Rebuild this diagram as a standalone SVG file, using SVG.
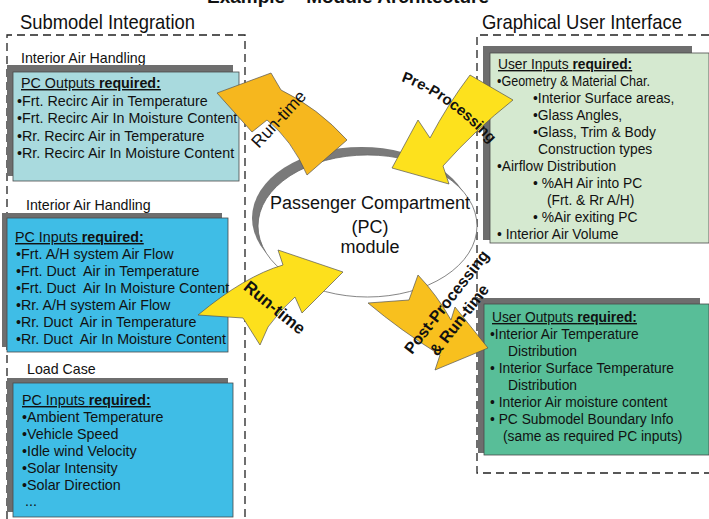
<svg xmlns="http://www.w3.org/2000/svg" width="709" height="519" viewBox="0 0 709 519">
<defs>
<style>
text{font-family:"Liberation Sans",Arial,Helvetica,sans-serif;fill:#111}
.t{font-size:21px}
.lbl{font-size:14.2px}
.l{font-size:14.3px}
.r{font-size:13.8px}
.u{text-decoration:underline}
.b{font-weight:bold}
.sh{fill:#6e6e6e}
.bx{stroke:#4a4a4a;stroke-width:0.8}
.dash{fill:none;stroke:#222;stroke-width:1.3;stroke-dasharray:8 5}
.arr{stroke:#555;stroke-width:0.7;stroke-linejoin:miter}
.pre{white-space:pre}
</style>
<path id="pp" d="M401,81 Q455,100 506,162"/>
</defs>
<rect width="709" height="519" fill="#fff"/>

<text x="207" y="3" class="b" font-size="19" textLength="282" lengthAdjust="spacingAndGlyphs">Example – Module Architecture</text>

<g id="submodel-integration">
<text x="20" y="29" class="t" textLength="175" lengthAdjust="spacingAndGlyphs">Submodel Integration</text>
<path class="dash" d="M7,519 V35 H245 V519"/>
</g>
<g id="gui">
<text x="482" y="29" class="t" textLength="200" lengthAdjust="spacingAndGlyphs">Graphical User Interface</text>
<path class="dash" d="M709,35 H477 V473 H709"/>
</g>

<g id="pc-outputs">
<text x="21" y="63" class="lbl">Interior Air Handling</text>
<rect class="sh" x="7" y="65" width="226" height="111"/>
<rect class="bx" x="13" y="72" width="226" height="109" fill="#a9dade"/>
<text x="21" y="88" class="l u">PC Outputs <tspan class="b">required:</tspan></text>
<text x="17" y="105.5" class="l">•Frt. Recirc Air in Temperature</text>
<text x="17" y="123" class="l">•Frt. Recirc Air In Moisture Content</text>
<text x="17" y="140.5" class="l">•Rr. Recirc Air in Temperature</text>
<text x="17" y="158" class="l">•Rr. Recirc Air In Moisture Content</text>
</g>

<g id="pc-inputs-ah">
<text x="26" y="210" class="lbl">Interior Air Handling</text>
<rect class="sh" x="2" y="213" width="220" height="134"/>
<rect class="bx" x="7" y="218" width="221" height="134" fill="#3fbde6"/>
<text x="15" y="242" class="l u">PC Inputs <tspan class="b">required:</tspan></text>
<text x="16" y="259" class="l pre">•Frt. A/H system Air Flow</text>
<text x="16" y="276" class="l pre">•Frt. Duct  Air in Temperature</text>
<text x="16" y="293" class="l pre">•Frt. Duct  Air In Moisture Content</text>
<text x="16" y="310" class="l pre">•Rr. A/H system Air Flow</text>
<text x="16" y="327" class="l pre">•Rr. Duct  Air in Temperature</text>
<text x="16" y="344" class="l pre">•Rr. Duct  Air In Moisture Content</text>
</g>

<g id="pc-inputs-load">
<text x="27" y="374" class="lbl">Load Case</text>
<rect class="sh" x="7" y="378" width="221" height="134"/>
<rect class="bx" x="13" y="383" width="220" height="134" fill="#3fbde6"/>
<text x="22" y="405" class="l u">PC Inputs <tspan class="b">required:</tspan></text>
<text x="22" y="422" class="l">•Ambient Temperature</text>
<text x="22" y="439" class="l">•Vehicle Speed</text>
<text x="22" y="456" class="l">•Idle wind Velocity</text>
<text x="22" y="473" class="l">•Solar Intensity</text>
<text x="22" y="490" class="l">•Solar Direction</text>
<text x="25" y="506" class="l">...</text>
</g>

<g id="user-inputs">
<rect class="sh" x="483" y="46" width="209" height="194"/>
<rect class="bx" x="490" y="53" width="219" height="190" fill="#d5e9d0"/>
<text x="498" y="69" class="r u">User Inputs <tspan class="b">required:</tspan></text>
<text x="497" y="86" class="r" textLength="153" lengthAdjust="spacingAndGlyphs">•Geometry &amp; Material Char.</text>
<text x="533" y="103" class="r">•Interior Surface areas,</text>
<text x="533" y="120" class="r">•Glass Angles,</text>
<text x="533" y="137" class="r">•Glass, Trim &amp; Body</text>
<text x="538" y="154" class="r">Construction types</text>
<text x="497" y="171" class="r">•Airflow Distribution</text>
<text x="533" y="188" class="r">• %AH Air into PC</text>
<text x="547" y="205" class="r">(Frt. &amp; Rr A/H)</text>
<text x="533" y="222" class="r">• %Air exiting PC</text>
<text x="497" y="239" class="r">• Interior Air Volume</text>
</g>

<g id="user-outputs">
<rect class="sh" x="478" y="298" width="222" height="155"/>
<rect class="bx" x="484" y="304" width="225" height="151" fill="#58be98"/>
<text x="492" y="322" class="r u">User Outputs <tspan class="b">required:</tspan></text>
<text x="490" y="339" class="r">•Interior Air Temperature</text>
<text x="508" y="356" class="r">Distribution</text>
<text x="490" y="373" class="r">• Interior Surface Temperature</text>
<text x="508" y="390" class="r">Distribution</text>
<text x="490" y="407" class="r">• Interior Air moisture content</text>
<text x="490" y="424" class="r">• PC Submodel Boundary Info</text>
<text x="503" y="441" class="r">(same as required PC inputs)</text>
</g>

<g id="pc-module">
<ellipse cx="361.5" cy="218" rx="109.5" ry="71" fill="#7a7a7a"/>
<ellipse cx="367.5" cy="226" rx="109.5" ry="71" fill="#fff" stroke="#666" stroke-width="0.8"/>
<text x="370" y="209" font-size="18" text-anchor="middle">Passenger Compartment</text>
<text x="370" y="233" font-size="18" text-anchor="middle">(PC)</text>
<text x="370" y="253" font-size="18" text-anchor="middle">module</text>
</g>

<g id="connectors">
<path class="arr" fill="#f6b71e" d="M217,93 L271,73 L281,90 Q318,108 347,140 L307,175 Q292,140 267,120 L252,132 Z"/>
<path class="arr" fill="#fde11d" d="M392,168 L418,120 L430,138 Q448,104 470,75 L513,100 Q475,130 443,166 L449,184 Z"/>
<path class="arr" fill="#fde01c" d="M198,315 Q245,276 283,265 L278,250 L343,272 L302,313 L295,297 Q280,310 268,327 L260,345 L243,318 Z"/>
<path class="arr" fill="#f8c01e" d="M368,303 L409,300 L418,275 Q437,295 451,320 L455,307 L488,348 L435,370 L440,355 Q400,330 368,303 Z"/>
<text transform="translate(283,123) rotate(-47)" text-anchor="middle" font-size="17.5">Run-time</text>
<text class="b" font-size="15"><textPath href="#pp">Pre-Processing</textPath></text>
<text transform="translate(271,312) rotate(39)" text-anchor="middle" class="b" font-size="17">Run-time</text>
<g transform="translate(412,355) rotate(-52)">
<text x="0" y="0" class="b" font-size="16">Post-Processing</text>
<text x="14" y="21" class="b" font-size="16">&amp; Run-time</text>
</g>
</g>
</svg>
